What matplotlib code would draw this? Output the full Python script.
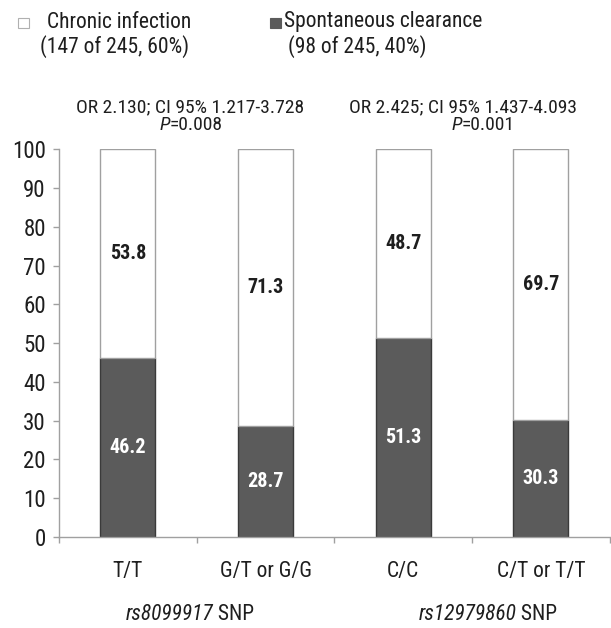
import numpy as np
import matplotlib.pyplot as plt
from matplotlib.ticker import FixedLocator

# genotype groups and percentages per group
genotypes = ['T/T', 'G/T or G/G', 'C/C', 'C/T or T/T']
clearance = [46.2, 28.7, 51.3, 30.3]
chronic = [53.8, 71.3, 48.7, 69.7]
snps = ['rs8099917', 'rs12979860']
odds = ['OR 2.130; CI 95% 1.217-3.728', 'OR 2.425; CI 95% 1.437-4.093']
pvals = ['0.008', '0.001']

plt.rcParams['font.family'] = ['Liberation Sans Narrow', 'Roboto Condensed', 'DejaVu Sans']
DARK = '#5b5b5b'
GRID = '#a0a0a0'
TXT = '#1e1e1e'

fig = plt.figure(figsize=(6.11, 6.28), dpi=100)
ax = fig.add_axes([0.0966, 0.145, 0.9014, 0.617])

x = np.arange(len(genotypes))
w = 0.4
ax.bar(x, clearance, w, color=DARK, edgecolor='#3a3a3a', linewidth=1)
ax.bar(x, chronic, w, bottom=clearance, color='white', edgecolor=GRID, linewidth=1)

for i in range(len(x)):
    ax.text(x[i], clearance[i] / 2, f'{clearance[i]:.1f}', ha='center', va='center',
            color='white', fontsize=14.5, fontweight='bold')
    ax.text(x[i], clearance[i] + chronic[i] / 2, f'{chronic[i]:.1f}', ha='center',
            va='center', color=TXT, fontsize=14.5, fontweight='bold')

ax.set_xlim(-0.5, len(x) - 0.5)
ax.set_ylim(0, 100)
ax.set_yticks(np.arange(0, 101, 10))
ax.set_xticks(x)
ax.set_xticklabels(genotypes)
ax.xaxis.set_minor_locator(FixedLocator(np.arange(-0.5, len(x), 1.0)))
ax.tick_params(axis='x', which='major', length=0, pad=17, labelsize=15.5, labelcolor=TXT)
ax.tick_params(axis='x', which='minor', length=4, color=GRID, width=1)
ax.tick_params(axis='y', length=4.5, color=GRID, width=1, labelsize=16.5, labelcolor=TXT, pad=5)
for s in ['top', 'right']:
    ax.spines[s].set_visible(False)
for s in ['left', 'bottom']:
    ax.spines[s].set_color(GRID)
    ax.spines[s].set_linewidth(1)


def mixed(xpos, ypos, italic, plain, size):
    """Italic piece followed by an upright piece, centred on xpos as a whole."""
    t1 = fig.text(0, ypos, italic, ha='left', va='center', fontsize=size,
                  color=TXT, fontstyle='italic')
    t2 = fig.text(0, ypos, plain, ha='left', va='center', fontsize=size, color=TXT)
    r = fig.canvas.get_renderer()
    w1 = t1.get_window_extent(r).width
    w2 = t2.get_window_extent(r).width
    W = fig.bbox.width
    left = xpos - (w1 + w2) / 2 / W
    t1.set_x(left)
    t2.set_x(left + w1 / W)


# SNP names under each pair of genotypes
snp_x = [190 / 611, 488 / 611]
for sx, name in zip(snp_x, snps):
    mixed(sx, 1 - 615 / 628, name, ' SNP', 15.5)

# odds ratios above each pair
or_x = [190 / 611, 463 / 611]
p_x = [191 / 611, 483 / 611]
for ox, px, label, p in zip(or_x, p_x, odds, pvals):
    fig.text(ox, 1 - 107 / 628, label, ha='center', va='center', fontsize=14, color=TXT)
    mixed(px, 1 - 125 / 628, 'P', '=' + p, 14)

# legend drawn as loose text with small squares
fig.patches.append(plt.Rectangle((18 / 611, 1 - 28 / 628), 11 / 611, 10 / 628,
                                 transform=fig.transFigure, facecolor='white',
                                 edgecolor='#b0b0b0', linewidth=0.8))
fig.patches.append(plt.Rectangle((270 / 611, 1 - 28 / 628), 11 / 611, 10 / 628,
                                 transform=fig.transFigure, facecolor=DARK,
                                 edgecolor=DARK, linewidth=0.8))
fig.text(47 / 611, 1 - 22 / 628, 'Chronic infection', ha='left', va='center',
         fontsize=15.5, color=TXT)
fig.text(40 / 611, 1 - 47 / 628, '(147 of 245, 60%)', ha='left', va='center',
         fontsize=15.5, color=TXT)
fig.text(284 / 611, 1 - 22 / 628, 'Spontaneous clearance', ha='left', va='center',
         fontsize=15.5, color=TXT)
fig.text(288 / 611, 1 - 47 / 628, '(98 of 245, 40%)', ha='left', va='center',
         fontsize=15.5, color=TXT)

fig.savefig('out.png', dpi=100)
